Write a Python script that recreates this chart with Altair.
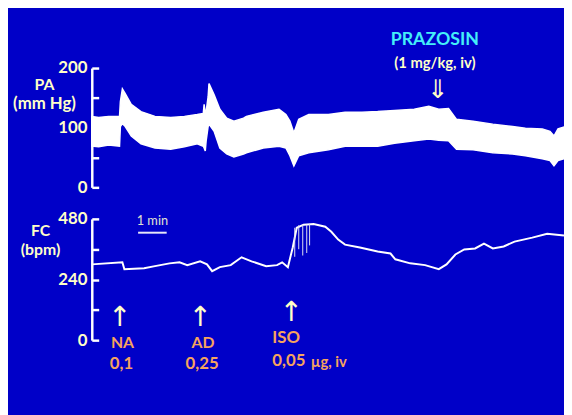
import altair as alt
import pandas as pd

BG = "#0000C8"
YEL = "#FFFFC8"
ORANGE = "#F6A35E"
CYAN = "#44EEF8"

# ---- data (time in minutes) ----
pa_t = [0, 0.24, 0.59, 0.97, 1.0, 1.07, 1.17, 1.38, 1.72, 2.21, 2.76, 3.24, 3.69, 3.9, 3.93,
        3.97, 4.0, 4.07, 4.1, 4.28, 4.48, 4.72, 4.97, 5.31, 5.41, 6.0, 6.55, 6.79, 6.93, 7.07,
        7.24, 7.59, 8.28, 8.86, 9.45, 10.0, 10.59, 11.28, 11.79, 12.14, 12.48, 12.76, 13.34,
        14.03, 14.72, 15.17, 15.76, 16.03, 16.17, 16.31, 16.52]
pa_sys = [119, 117, 119, 119, 144, 165, 157, 139, 127, 119, 117, 119, 122, 124, 139, 124, 127,
          152, 174, 155, 131, 116, 111, 116, 119, 126, 131, 122, 111, 91, 114, 122, 122, 126,
          126, 127, 129, 131, 136, 131, 132, 114, 111, 106, 102, 99, 98, 94, 86, 98, 101]
pa_dia = [69, 68, 71, 69, 102, 107, 102, 86, 73, 66, 64, 68, 73, 69, 66, 61, 78, 102, 106, 94,
          66, 56, 51, 56, 58, 66, 69, 66, 53, 36, 53, 58, 63, 69, 69, 69, 74, 78, 81, 79, 78,
          64, 63, 58, 56, 53, 48, 45, 36, 45, 48]

fc_t = [0, 1.07, 1.14, 1.83, 2.21, 2.72, 3.07, 3.34, 3.79, 4.03, 4.21, 4.48, 4.86, 5.24, 5.59,
        6.10, 6.48, 6.66, 6.86, 7.03, 7.17, 7.41, 7.76, 8.17, 8.38, 8.62, 8.86, 9.38, 10.0,
        10.45, 10.62, 11.14, 11.66, 12.14, 12.41, 12.72, 13.03, 13.41, 13.72, 14.03, 14.41,
        14.79, 15.41, 15.93, 16.52]
fc_bpm = [300, 308, 281, 285, 293, 304, 308, 297, 312, 300, 273, 289, 297, 328, 312, 293, 297,
          308, 289, 367, 445, 457, 460, 449, 429, 398, 378, 367, 351, 343, 320, 304, 297, 281,
          300, 339, 359, 363, 382, 363, 371, 390, 406, 421, 414]

spike_t = [7.10, 7.24, 7.38, 7.52, 7.62]
spike_lo = [330, 360, 335, 345, 375]
spike_hi = [445, 455, 457, 458, 460]

pa_ticks = [0, 50, 100, 150, 200]
fc_ticks = [0, 120, 240, 360, 480]

event_names = ["NA", "AD"]
event_times = [0.97, 3.79]
event_doses = ["0,1", "0,25"]
iso_time = [6.97]
prazosin_time = [12.0]
scale_bar = [1.62, 2.62]

# ---- scales ----
xs = alt.Scale(domain=[0, 16.52], range=[85, 564], nice=False, zero=False)
pa_scale = alt.Scale(domain=[0, 200], range=[179, 58], nice=False, zero=False)
fc_scale = alt.Scale(domain=[0, 480], range=[334, 211], nice=False, zero=False)


def yaxis(values, every):
    return alt.Axis(orient="right", offset=-479, values=values,
                    labelExpr=f"datum.value % {every} == 0 ? datum.label : ''",
                    domainColor="white", domainWidth=2.5, tickColor="white",
                    tickWidth=2.5, tickSize=7, labelColor=YEL, labelFont="Lato",
                    labelFontWeight="bold", labelFontSize=17, labelAlign="right",
                    labelBaseline="middle", labelPadding=-12, labelOverlap=False,
                    labelBound=False, grid=False, title=None)


pa_df = pd.DataFrame({"t": pa_t, "sys": pa_sys, "dia": pa_dia})
pa_band = alt.Chart(pa_df).mark_area(color="white", stroke="white", strokeWidth=1.5).encode(
    x=alt.X("t:Q", scale=xs, axis=None),
    y=alt.Y("sys:Q", scale=pa_scale, axis=yaxis(pa_ticks, 100)),
    y2="dia:Q",
)

fc_df = pd.DataFrame({"t": fc_t, "bpm": fc_bpm})
fc_line = alt.Chart(fc_df).mark_line(color="white", strokeWidth=2).encode(
    x=alt.X("t:Q", scale=xs, axis=None),
    y=alt.Y("bpm:Q", scale=fc_scale, axis=yaxis(fc_ticks, 240)),
)

sp_df = pd.DataFrame({"t": spike_t, "lo": spike_lo, "hi": spike_hi})
spikes = alt.Chart(sp_df).mark_rule(color="#E0E0F0", strokeWidth=1).encode(
    x=alt.X("t:Q", scale=xs, axis=None),
    y=alt.Y("lo:Q", scale=fc_scale, axis=None),
    y2="hi:Q",
)

layers = [pa_band, fc_line, spikes]


def txt(text, x, y, size, color, weight="bold", font="Lato", align="center",
        data_t=None, dx=0):
    df = pd.DataFrame({"t": data_t if data_t is not None else [0],
                       "lab": text if isinstance(text, list) else [text]})
    mark = alt.Chart(df).mark_text(font=font, fontSize=size, fontWeight=weight, color=color,
                                   align=align, baseline="middle", dx=dx)
    if data_t is not None:
        enc = dict(x=alt.X("t:Q", scale=xs, axis=None))
    else:
        enc = dict(x=alt.value(x))
    return [mark.encode(y=alt.value(y), text="lab:N", **enc)]


# axis titles
layers += txt("PA", 37, 75, 16, YEL)
layers += txt("(mm Hg)", 37, 95, 17, YEL)
layers += txt("FC", 33, 223, 16, YEL)
layers += txt("(bpm)", 33, 243, 16, YEL)

# 1 min scale bar
sb_df = pd.DataFrame({"t0": [scale_bar[0]], "t1": [scale_bar[1]]})
layers.append(alt.Chart(sb_df).mark_rule(color="#E8E8F8", strokeWidth=2).encode(
    x=alt.X("t0:Q", scale=xs, axis=None), x2="t1:Q", y=alt.value(225)))
layers += txt("1 min", 0, 213, 13, "#E0E0D0", weight="normal",
              data_t=[(scale_bar[0] + scale_bar[1]) / 2])

# Prazosin
layers += txt("PRAZOSIN", 0, 30, 18, CYAN, data_t=prazosin_time)
layers += txt("(1 mg/kg, iv)", 0, 53, 15, YEL, data_t=prazosin_time)
layers += txt("⇓", 0, 80, 26, YEL, weight="normal", font="DejaVu Sans",
              data_t=[prazosin_time[0] + 0.1])

# injection events
layers += txt(["↑", "↑"], 0, 312, 28, YEL, weight="normal", font="DejaVu Sans",
              data_t=event_times)
layers += txt(event_names, 0, 337, 16, ORANGE, data_t=event_times, dx=3)
layers += txt(event_doses, 0, 358, 17, ORANGE, data_t=event_times, dx=2)
layers += txt("↑", 0, 307, 28, YEL, weight="normal", font="DejaVu Sans",
              data_t=iso_time)
layers += txt("ISO", 0, 332, 17, ORANGE, align="left", data_t=iso_time, dx=-19)
layers += txt("0,05", 0, 355, 17, ORANGE, align="left", data_t=iso_time, dx=-19)
layers += txt("µg, iv", 0, 356, 15, ORANGE, align="left", data_t=iso_time, dx=20)

chart = alt.layer(*layers).resolve_scale(y="independent").properties(
    width=564, height=407, autosize=alt.AutoSizeParams(type="none"), padding=0,
).configure(background=BG).configure_view(stroke=None)

chart.save("out.html", embed_options={"renderer": "svg", "actions": False})
